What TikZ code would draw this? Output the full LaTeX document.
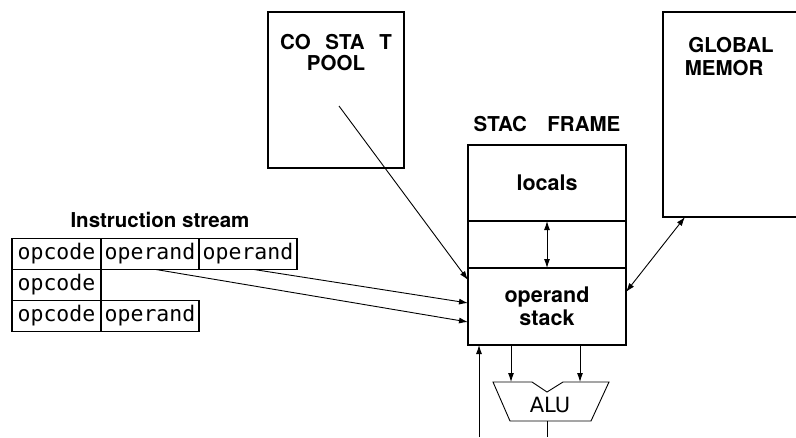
\documentclass[tikz,border=0pt]{standalone}
\usepackage{fontspec}
\setmainfont{TeX Gyre Heros}
\newfontfamily\cellfont{DejaVu Sans Mono}
\newfontfamily\alufont{DejaVu Sans}
\usetikzlibrary{positioning,arrows.meta}

\begin{document}
\begin{tikzpicture}[x=1pt, y=-1pt, line width=0.9pt,
  >={Latex[length=9pt,width=6pt]},
  membox/.style={draw, line width=1.4pt, minimum width=136pt, outer sep=0pt},
  boxlabel/.style={font=\fontsize{20.5}{21}\selectfont\bfseries, align=center, inner sep=0pt},
  framebox/.style={draw, line width=1.4pt, minimum width=158pt, inner sep=0pt, outer sep=0pt, font=\fontsize{21.5}{23}\selectfont\bfseries, align=center},
  cell/.style={draw, line width=1.1pt, minimum height=31pt, inner sep=0pt, outer sep=0pt, font=\fontsize{21.5}{24}\selectfont\cellfont},
  opcell/.style={cell, minimum width=89pt},
  argcell/.style={cell, minimum width=98pt}]
\useasboundingbox (0,0) rectangle (796,437);

\node[membox, minimum height=156pt] (pool) at (336,90) {};
\node[boxlabel, below=22pt of pool.north] (pooltxt) {CO\phantom{N}STA\phantom{N}T\\POOL};
\node[membox, minimum height=205pt] (gmem) at (731,114.5) {};
\node[boxlabel, below=25pt of gmem.north] (gmemtxt) {GLOBAL\\[2pt]MEMOR\phantom{Y}};

\node[framebox, minimum height=76pt] (locals) at (547,183) {locals};
\node[framebox, minimum height=47pt, below=0pt of locals] (mid) {};
\node[framebox, minimum height=77pt, below=0pt of mid] (opstack) {operand\\stack};
\node[boxlabel, above=13pt of locals] (frametxt) {STAC\phantom{K} FRAME};

\node[boxlabel] (title) at (160,220) {Instruction stream};
\node[opcell] (c11) at (56.5,254) {opcode};
\node[argcell, right=0pt of c11] (c12) {operand};
\node[argcell, right=0pt of c12] (c13) {operand};
\node[opcell, below=0pt of c11] (c21) {opcode};
\node[opcell, below=0pt of c21] (c31) {opcode};
\node[argcell, right=0pt of c31] (c32) {operand};

\coordinate (poolout) at (339,106);
\draw[->] (poolout) -- ([yshift=-12pt]opstack.north west);
\draw[->] ([xshift=6pt]c13.south) -- ([yshift=-35pt]opstack.north west);
\draw[->] ([xshift=6pt]c12.south) -- ([yshift=-54pt]opstack.north west);
\draw[<->] ([xshift=22pt]gmem.south west) -- ([yshift=-24pt]opstack.north east);
\draw[<->] (mid.north) -- (mid.south);

\draw (493,382) -- (532,382) -- (547,392) -- (563,382) -- (609,382) -- (591,421) -- (510,421) -- cycle;
\node[font=\fontsize{21}{24}\selectfont\alufont] (alu) at (550,405) {ALU};
\coordinate (ina) at (511,382);
\coordinate (inb) at (580,382);
\coordinate (aluout) at (547,421);
\coordinate (outend) at (547,437);
\coordinate (feed) at (479,437);
\draw[->] (opstack.south -| ina) -- (ina);
\draw[->] (opstack.south -| inb) -- (inb);
\draw (aluout) -- (outend);
\draw[->] (feed) -- (opstack.south -| feed);
\end{tikzpicture}
\end{document}
